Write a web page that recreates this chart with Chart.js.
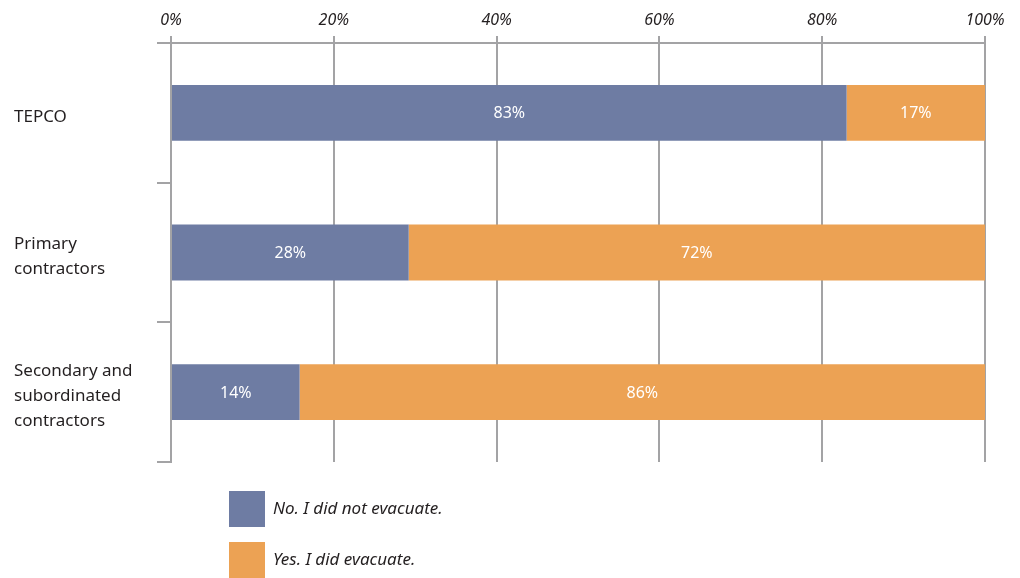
<!DOCTYPE html>
<html lang="en">
  <head>
    <meta charset="UTF-8" />
    <script src="https://cdn.jsdelivr.net/npm/chart.js@4.4.0/dist/chart.umd.min.js"></script>
    <title>Evacuation by employer</title>
    <style>
      body { margin: 0; background: #fff; }
      #wrap { width: 1020px; height: 578px; }
    </style>
  </head>
  <body>
    <div id="wrap"><canvas id="myChart"></canvas></div>

    <script>
      const categories = [["TEPCO"], ["Primary", "contractors"], ["Secondary and", "subordinated", "contractors"]];
      const didNotEvacuate = [83, 29.2, 15.8];
      const didEvacuate = [17, 70.8, 84.2];
      const notLabels = ["83%", "28%", "14%"];
      const yesLabels = ["17%", "72%", "86%"];
      const seriesNames = ["No. I did not evacuate.", "Yes. I did evacuate."];

      const BLUE = "#6e7ca3";
      const ORANGE = "#eca254";
      const GRID = "#a3a3a5";
      const TEXT = "#231f20";

      // value text in the middle of every bar
      const barText = {
        id: "barText",
        afterDatasetsDraw(chart) {
          const ctx = chart.ctx;
          ctx.save();
          ctx.fillStyle = "#fff";
          ctx.font = "16px 'Noto Sans'";
          ctx.textAlign = "center";
          ctx.textBaseline = "middle";
          chart.data.datasets.forEach((ds, i) => {
            chart.getDatasetMeta(i).data.forEach((bar, j) => {
              const p = bar.getProps(["x", "base", "y"], true);
              ctx.fillText(ds.shown[j], (p.x + p.base) / 2, p.y + 1);
            });
          });
          ctx.restore();
        },
      };

      // stacked legend under the plot
      const sideLegend = {
        id: "sideLegend",
        afterDraw(chart) {
          const ctx = chart.ctx;
          ctx.save();
          ctx.font = "italic 17px 'Noto Sans'";
          ctx.textBaseline = "middle";
          chart.data.datasets.forEach((ds, i) => {
            const top = 491 + i * 51;
            ctx.fillStyle = ds.backgroundColor;
            ctx.fillRect(229, top, 36, 36);
            ctx.fillStyle = TEXT;
            ctx.fillText(ds.label, 273, top + 18);
          });
          ctx.restore();
        },
      };

      const ctx = document.getElementById("myChart").getContext("2d");
      const myChart = new Chart(ctx, {
        type: "bar",
        data: {
          labels: categories,
          datasets: [
            { label: seriesNames[0], data: didNotEvacuate, shown: notLabels, backgroundColor: BLUE },
            { label: seriesNames[1], data: didEvacuate, shown: yesLabels, backgroundColor: ORANGE },
          ],
        },
        options: {
          indexAxis: "y",
          responsive: true,
          maintainAspectRatio: false,
          animation: false,
          categoryPercentage: 1,
          barPercentage: 0.4,
          layout: { padding: { left: 14, right: 35, top: 0, bottom: 116 } },
          plugins: { legend: { display: false }, tooltip: { enabled: false } },
          scales: {
            x: {
              position: "top",
              stacked: true,
              min: 0,
              max: 100,
              afterFit: (s) => { s.height = 43; },
              border: { color: GRID, width: 2 },
              grid: { color: GRID, lineWidth: 2, tickLength: 7 },
              ticks: {
                stepSize: 20,
                padding: 6,
                color: TEXT,
                font: { family: "'Noto Sans'", style: "italic", size: 16 },
                callback: (v) => v + "%",
              },
            },
            y: {
              stacked: true,
              afterFit: (s) => { s.width = 157; },
              border: { color: GRID, width: 2 },
              grid: { color: GRID, lineWidth: 2, tickLength: 14, drawOnChartArea: false, offset: true },
              ticks: {
                crossAlign: "far",
                labelOffset: 4,
                color: TEXT,
                font: { family: "'Noto Sans'", size: 17, lineHeight: 1.45 },
              },
            },
          },
        },
        plugins: [barText, sideLegend],
      });
    </script>
  </body>
</html>
